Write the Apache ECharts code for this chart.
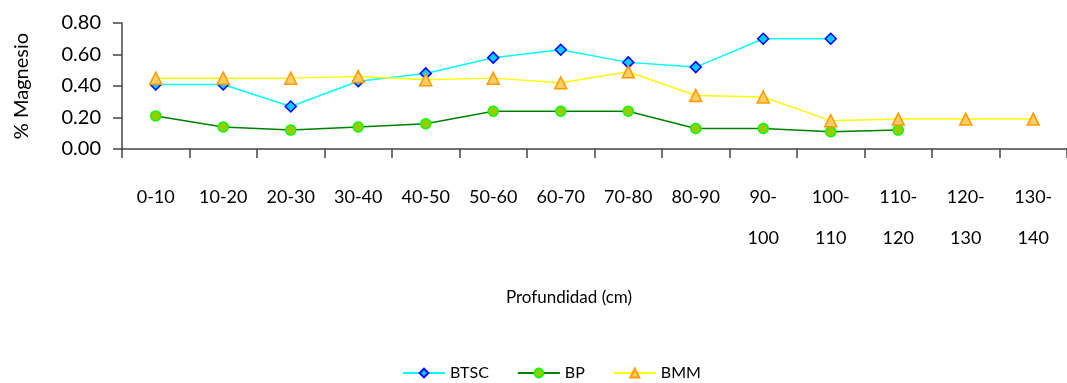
<!DOCTYPE html>
<html>
<head>
<meta charset="utf-8">
<script src="https://cdn.jsdelivr.net/npm/echarts@6/dist/echarts.min.js"></script>
<style>
  html, body { margin: 0; padding: 0; background: #fff; }
  #chart { width: 1067px; height: 383px; }
</style>
</head>
<body>
<div id="chart"></div>
<script>
// Depth intervals (cm)
const categories = ['0-10', '10-20', '20-30', '30-40', '40-50', '50-60', '60-70', '70-80', '80-90',
  '90-\n100', '100-\n110', '110-\n120', '120-\n130', '130-\n140'];

// % Magnesium per depth interval
const btsc = [0.41, 0.41, 0.27, 0.43, 0.48, 0.58, 0.63, 0.55, 0.52, 0.70, 0.70, null, null, null];
const bp   = [0.21, 0.14, 0.12, 0.14, 0.16, 0.24, 0.24, 0.24, 0.13, 0.13, 0.11, 0.12, null, null];
const bmm  = [0.45, 0.45, 0.45, 0.46, 0.44, 0.45, 0.42, 0.49, 0.34, 0.33, 0.18, 0.19, 0.19, 0.19];

const FONT = 'Lato';
const chart = echarts.init(document.getElementById('chart'));

function lineSeries(name, data, lineColor, symbol, size, fill, border) {
  return {
    name, type: 'line', data,
    symbol, symbolSize: size, showAllSymbol: true,
    lineStyle: { color: lineColor, width: 1.5 },
    itemStyle: { color: fill, borderColor: border, borderWidth: 1.5 },
    emphasis: { disabled: true },
    animation: false
  };
}

chart.setOption({
  backgroundColor: '#fff',
  textStyle: { fontFamily: FONT },
  grid: { left: 122, right: -5, top: 23, bottom: 234 },
  xAxis: {
    type: 'category',
    data: categories,
    boundaryGap: true,
    axisLine: { lineStyle: { color: '#444', width: 1.5 } },
    axisTick: { show: true, length: 9, alignWithLabel: false, lineStyle: { color: '#444', width: 1.5 } },
    axisLabel: {
      interval: 0, color: '#000', fontSize: 18, fontFamily: FONT,
      lineHeight: 41, margin: 28, verticalAlign: 'top'
    },
    splitLine: { show: false }
  },
  yAxis: {
    type: 'value',
    min: 0, max: 0.8, interval: 0.2,
    name: '% Magnesio',
    nameLocation: 'middle',
    nameGap: 90,
    nameTextStyle: { color: '#000', fontSize: 20, fontFamily: FONT },
    axisLine: { show: true, lineStyle: { color: '#444', width: 1.5 } },
    axisTick: { show: true, length: 9, lineStyle: { color: '#444', width: 1.5 } },
    axisLabel: {
      color: '#000', fontSize: 20, fontFamily: FONT, margin: 21,
      formatter: v => v.toFixed(2)
    },
    splitLine: { show: false }
  },
  legend: {
    top: 361,
    left: 398,
    padding: 4,
    itemGap: 28,
    itemWidth: 42,
    itemHeight: 11,
    textStyle: { color: '#000', fontSize: 16, fontFamily: FONT },
    data: ['BTSC', 'BP', 'BMM']
  },
  graphic: [{
    type: 'text',
    x: 569, y: 298,
    style: {
      text: 'Profundidad (cm)', fill: '#000', font: '17px ' + FONT,
      align: 'center', verticalAlign: 'middle'
    }
  }],
  series: [
    lineSeries('BTSC', btsc, '#00FFFF', 'diamond', 11, '#00CCFF', '#0000FF'),
    lineSeries('BP', bp, '#008000', 'circle', 10, '#99CC00', '#00FF00'),
    lineSeries('BMM', bmm, '#FFFF00', 'triangle', 12, '#FFCC66', '#FF9900')
  ]
});
</script>
</body>
</html>
